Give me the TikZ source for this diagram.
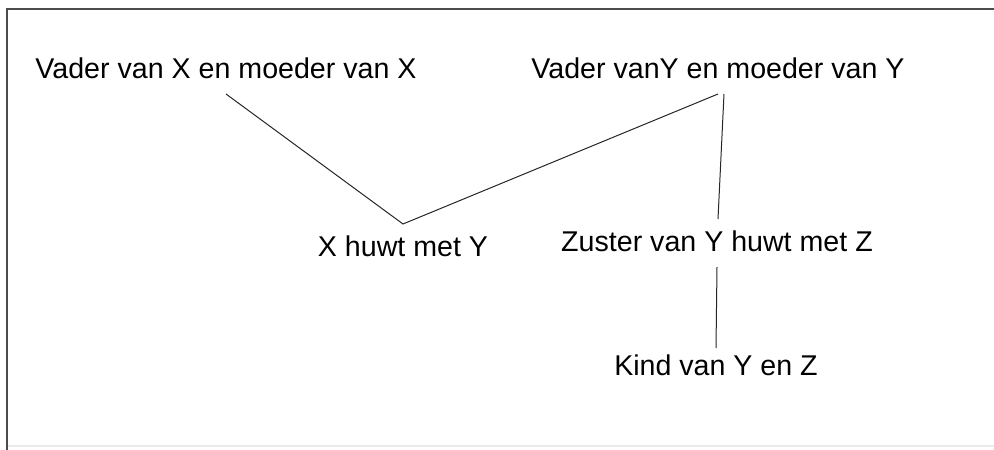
\documentclass[tikz,border=0pt]{standalone}
\usepackage{fontspec}
\setmainfont{Liberation Sans}
\tikzset{
  label/.style={font=\fontsize{28.6}{32}\selectfont, inner sep=0pt, outer sep=10pt,
    text height=22pt, text depth=6pt, anchor=base},
  link/.style={line width=1pt, black!85}
}
\begin{document}
\begin{tikzpicture}[x=1pt, y=-1pt]

\useasboundingbox (0,0) rectangle (994,450);
\draw[gray!60!black, line width=2pt](7,450)--(7,8.5)--(994,8.5);
\draw[black!8, line width=1.5pt](8,446)--(994,446);

\node[label] (vx) at (226,78) {Vader van X en moeder van X};
\node[label] (vy) at (718,78) {Vader vanY en moeder van Y};
\node[label] (xy) at (403,256) {X huwt met Y};
\node[label] (zy) at (717,251) {Zuster van Y huwt met Z};
\node[label] (kind) at (716,375) {Kind van Y en Z};

\draw[link](vx.south)--(xy.north)--(vy.south);
\draw[link]([xshift=6pt]vy.south)--([xshift=1pt]zy.north);
\draw[link](zy.south)--([yshift=-5pt]kind.north);

    \end{tikzpicture}
\end{document}
